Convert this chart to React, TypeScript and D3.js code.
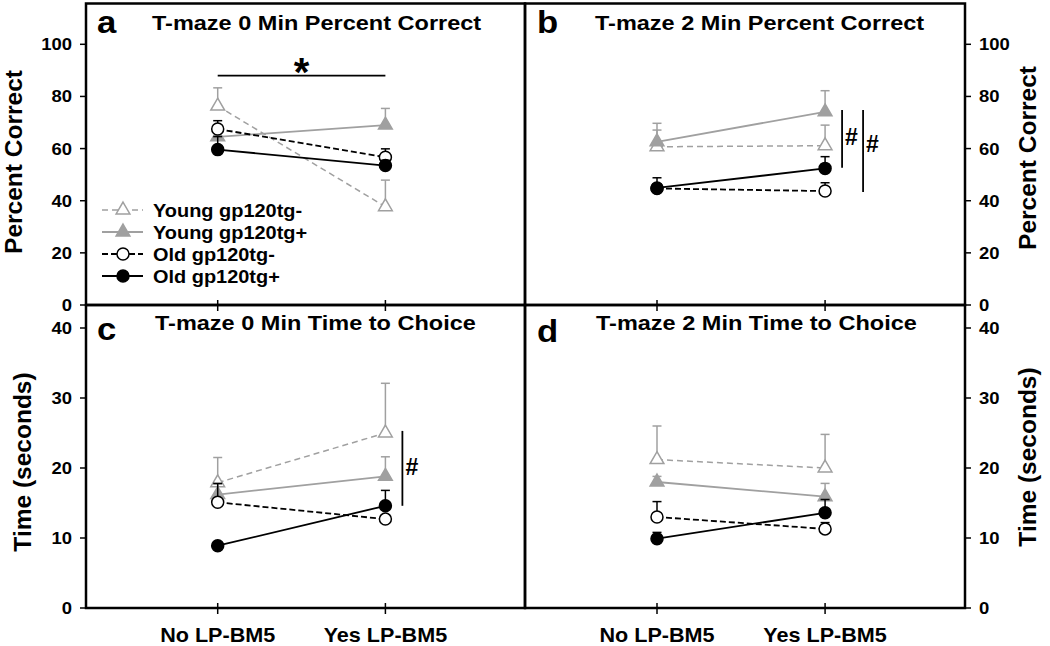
import React from "react";
import * as d3 from "d3";

// ---------- data ----------
const categories = ["No LP-BM5", "Yes LP-BM5"];
const seriesNames = ["Young gp120tg-", "Young gp120tg+", "Old gp120tg-", "Old gp120tg+"];

// panel a: T-maze 0 Min Percent Correct (rows follow seriesNames)
const pct0Means = [[76.3, 37.7], [64.5, 69.0], [67.5, 56.7], [59.6, 53.5]];
const pct0Sems = [[7.0, 10.2], [2.5, 6.4], [3.2, 3.2], [5.0, 2.0]];
// panel b: T-maze 2 Min Percent Correct
const pct2Means = [[60.7, 61.1], [62.6, 74.1], [44.7, 43.7], [44.9, 52.4]];
const pct2Sems = [[6.4, 7.9], [7.1, 8.1], [1.5, 3.2], [3.9, 4.5]];
// panel c: T-maze 0 Min Time to Choice
const time0Means = [[17.9, 25.0], [16.2, 18.8], [15.1, 12.7], [8.9, 14.6]];
const time0Sems = [[3.6, 7.1], [1.5, 2.8], [2.7, 0.5], [0.4, 2.2]];
// panel d: T-maze 2 Min Time to Choice
const time2Means = [[21.2, 20.0], [18.0, 15.9], [13.0, 11.3], [9.9, 13.6]];
const time2Sems = [[4.8, 4.8], [0.8, 1.9], [2.2, 0.9], [0.9, 1.9]];

const pctTicks = [0, 20, 40, 60, 80, 100];
const timeTicks = [0, 10, 20, 30, 40];

// significance annotations
const pct0Bracket = 88; // value of horizontal bracket, panel a
const pct2SigBars = [[52.6, 74.8], [43.3, 74.8]];
const pct2SigLabelAt = [64.6, 61.9];
const time0SigBars = [[14.6, 25.3]];
const time0SigLabelAt = [20.2];

// ---------- styles ----------
const FONT = "'Liberation Sans', Arial, Helvetica, sans-serif";
const SX = 1.12;
const GRAY = "#a0a0a0";
const seriesStyle = [
  { color: GRAY, dash: "6,4", shape: "tri", filled: false, width: 1.5 },
  { color: GRAY, dash: null, shape: "tri", filled: true, width: 1.8 },
  { color: "#000", dash: "6,3", shape: "circ", filled: false, width: 1.8 },
  { color: "#000", dash: null, shape: "circ", filled: true, width: 1.8 },
];

const pctScale = d3.scaleLinear().domain([0, 100]).range([305, 44.3]);
const timeScale = d3.scaleLinear().domain([0, 40]).range([608, 328]);

function Txt({ x, y, size, anchor = "start", sx = SX, children, rotate = 0 }: any) {
  return (
    <text
      transform={`translate(${x},${y}) rotate(${rotate}) scale(${sx},1)`}
      fontSize={size}
      textAnchor={anchor}
      fontWeight="bold"
      fontFamily={FONT}
      fill="#000"
    >
      {children}
    </text>
  );
}

const triPath = d3.symbol(d3.symbolTriangle, 82)() as string;
const circPath = d3.symbol(d3.symbolCircle, 113)() as string;

function Marker({ x, y, s }: any) {
  const d = s.shape === "tri" ? triPath : circPath;
  return (
    <path
      d={d}
      transform={`translate(${x},${y})`}
      fill={s.filled ? s.color : "#fff"}
      stroke={s.color}
      strokeWidth={1.5}
    />
  );
}

function Panel({ p }: any) {
  const { x0, x1, y0, y1, y, ticks, side, means, sems } = p;
  const w = x1 - x0;
  const x = d3.scalePoint<string>().domain(categories).range([x0 + 0.3 * w, x0 + 0.682 * w]);
  const line = d3
    .line<number>()
    .x((_, i) => x(categories[i]) as number)
    .y((v) => y(v));
  const axX = side === "left" ? x0 : x1;
  const dir = side === "left" ? -1 : 1;
  return (
    <g>
      {/* series */}
      {means.map((m: number[], si: number) => {
        const s = seriesStyle[si];
        return (
          <g key={si}>
            <path
              d={line(m) as string}
              fill="none"
              stroke={s.color}
              strokeWidth={s.width}
              strokeDasharray={s.dash || undefined}
            />
            {m.map((v, i) => {
              const cx = x(categories[i]) as number;
              const top = y(v + sems[si][i]);
              return (
                <g key={i}>
                  <line x1={cx} x2={cx} y1={y(v)} y2={top} stroke={s.color} strokeWidth={1.5} />
                  <line x1={cx - 4.5} x2={cx + 4.5} y1={top} y2={top} stroke={s.color} strokeWidth={1.5} />
                </g>
              );
            })}
            {m.map((v, i) => (
              <Marker key={"m" + i} x={x(categories[i])} y={y(v)} s={s} />
            ))}
          </g>
        );
      })}
      {/* frame */}
      <rect x={x0} y={y0} width={w} height={y1 - y0} fill="none" stroke="#000" strokeWidth={2.5} />
      {/* y axis ticks */}
      {ticks.map((t: number) => (
        <g key={t}>
          <line x1={axX} x2={axX + dir * 6} y1={y(t)} y2={y(t)} stroke="#000" strokeWidth={1.5} />
          <Txt x={axX + dir * 14} y={y(t) + 6} size={16.5} anchor={side === "left" ? "end" : "start"}>
            {t}
          </Txt>
        </g>
      ))}
      {/* x ticks */}
      {categories.map((c) => (
        <line
          key={c}
          x1={x(c)}
          x2={x(c)}
          y1={y1 - 5}
          y2={y1 + 6}
          stroke="#000"
          strokeWidth={1.5}
        />
      ))}
      {p.showCats &&
        categories.map((c) => (
          <Txt key={c} x={x(c)} y={642} size={20} sx={1.08} anchor="middle">
            {c}
          </Txt>
        ))}
      {/* titles */}
      <Txt x={p.letterX} y={p.letterY} size={31}>
        {p.letter}
      </Txt>
      <Txt x={p.titleX} y={p.titleY} size={21}>
        {p.title}
      </Txt>
      <Txt x={p.axisTitleX} y={p.axisTitleY} size={24.5} sx={1} rotate={-90} anchor="middle">
        {p.axisTitle}
      </Txt>
      {p.bracket !== undefined && (
        <g>
          <line
            x1={x(categories[0])}
            x2={x(categories[1])}
            y1={y(p.bracket)}
            y2={y(p.bracket)}
            stroke="#000"
            strokeWidth={1.8}
          />
          <Txt
            x={((x(categories[0]) as number) + (x(categories[1]) as number)) / 2}
            y={y(p.bracket) + 10}
            size={40}
            sx={1}
            anchor="middle"
          >
            *
          </Txt>
        </g>
      )}
      {p.sigBars &&
        p.sigBars.map((b: number[], i: number) => {
          const bx = (x(categories[1]) as number) + 17 + i * 21;
          return (
            <g key={i}>
              <line x1={bx} x2={bx} y1={y(b[0])} y2={y(b[1])} stroke="#000" strokeWidth={1.8} />
              <Txt x={bx + 3} y={y(p.sigLabelAt[i]) + 8} size={23} sx={1}>
                #
              </Txt>
            </g>
          );
        })}
    </g>
  );
}

const panels = [
  {
    x0: 86, x1: 525, y0: 3.5, y1: 305, y: pctScale, ticks: pctTicks, side: "left",
    means: pct0Means, sems: pct0Sems, letter: "a", letterX: 97, letterY: 33,
    title: "T-maze 0 Min Percent Correct", titleX: 152, titleY: 30,
    axisTitle: "Percent Correct", axisTitleX: 22, axisTitleY: 162, bracket: pct0Bracket,
  },
  {
    x0: 525, x1: 965, y0: 3.5, y1: 305, y: pctScale, ticks: pctTicks, side: "right",
    means: pct2Means, sems: pct2Sems, letter: "b", letterX: 537, letterY: 33,
    title: "T-maze 2 Min Percent Correct", titleX: 595, titleY: 29.5,
    axisTitle: "Percent Correct", axisTitleX: 1036, axisTitleY: 158,
    sigBars: pct2SigBars, sigLabelAt: pct2SigLabelAt,
  },
  {
    x0: 86, x1: 525, y0: 305, y1: 608, y: timeScale, ticks: timeTicks, side: "left",
    means: time0Means, sems: time0Sems, letter: "c", letterX: 97, letterY: 340,
    title: "T-maze 0 Min Time to Choice", titleX: 155, titleY: 330,
    axisTitle: "Time (seconds)", axisTitleX: 31, axisTitleY: 462, showCats: true,
    sigBars: time0SigBars, sigLabelAt: time0SigLabelAt,
  },
  {
    x0: 525, x1: 965, y0: 305, y1: 608, y: timeScale, ticks: timeTicks, side: "right",
    means: time2Means, sems: time2Sems, letter: "d", letterX: 537, letterY: 342,
    title: "T-maze 2 Min Time to Choice", titleX: 596, titleY: 330,
    axisTitle: "Time (seconds)", axisTitleX: 1036, axisTitleY: 457, showCats: true,
  },
];

function Legend() {
  const rows = d3.range(seriesNames.length).map((i) => 210 + i * 22);
  return (
    <g>
      {seriesNames.map((name, i) => {
        const s = seriesStyle[i];
        const cy = rows[i];
        return (
          <g key={name}>
            <line
              x1={102}
              x2={143}
              y1={cy}
              y2={cy}
              stroke={s.color}
              strokeWidth={s.width}
              strokeDasharray={s.dash || undefined}
            />
            <Marker x={123} y={cy} s={s} />
            <Txt x={153} y={cy + 6.5} size={17.5} sx={1.14}>
              {name}
            </Txt>
          </g>
        );
      })}
    </g>
  );
}

export default function App() {
  return (
    <div style={{ position: "absolute", left: 0, top: 0 }}>
      <svg width={1050} height={646} style={{ display: "block", background: "#fff" }}>
        <rect width={1050} height={646} fill="#fff" />
        {panels.map((p, i) => (
          <Panel key={i} p={p} />
        ))}
        <Legend />
      </svg>
    </div>
  );
}
